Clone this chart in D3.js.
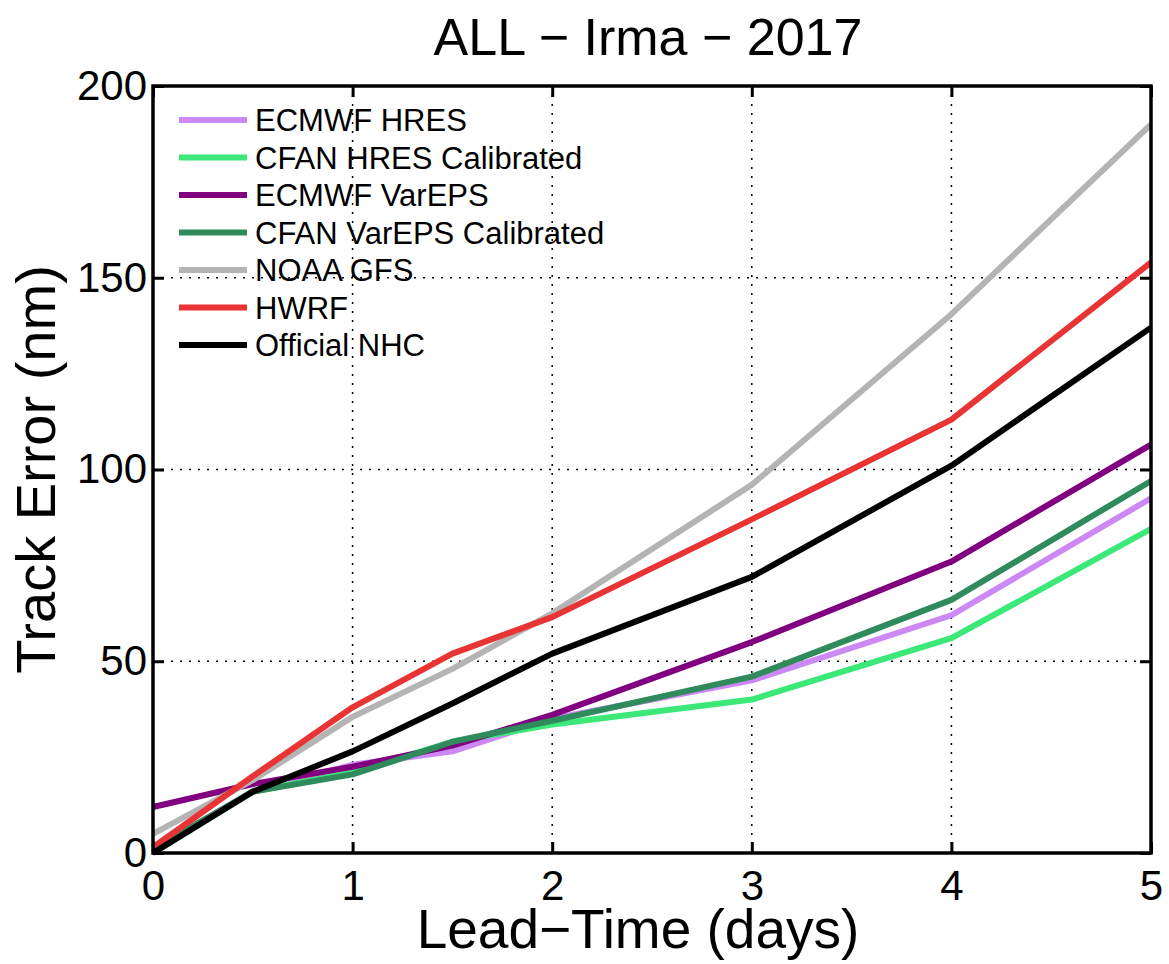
<!DOCTYPE html>
<html>
<head>
<meta charset="utf-8">
<script src="https://cdn.jsdelivr.net/npm/d3@7"></script>
<style>
  body { margin: 0; background: #fff; overflow: hidden; }
  svg text { font-family: "Liberation Sans", Arial, sans-serif; }
</style>
</head>
<body>
<svg id="chart" width="1169" height="964"></svg>
<script>
// lead times (days)
var leadDays = [0, 0.5, 1, 1.5, 2, 3, 4, 5]

var seriesNames = ['ECMWF HRES', 'CFAN HRES Calibrated', 'ECMWF VarEPS', 'CFAN VarEPS Calibrated', 'NOAA GFS', 'HWRF', 'Official NHC']
var seriesColors = ['#cc88f5', '#3be878', '#800080', '#2f8a5c', '#b4b4b4', '#e83434', '#000000']

var ecmwfHres = [1, 16, 23, 26.5, 35, 45, 62, 92.5]
var cfanHres = [0, 16, 21, 29, 33.5, 40, 56, 84.5]
var ecmwfEps = [12, 18, 22.5, 28, 36, 55, 76, 106.5]
var cfanEps = [1, 16, 20.5, 29, 34.5, 46, 66, 97]
var noaaGfs = [5, 19, 35.5, 48, 62.5, 96, 140.5, 190]
var hwrf = [1.5, 20, 38, 52, 61.5, 87, 113, 154]
var nhc = [0, 16, 26.5, 39, 52, 72, 101, 137]

var allSeries = [ecmwfHres, cfanHres, ecmwfEps, cfanEps, noaaGfs, hwrf, nhc]

var xTicks = [0, 1, 2, 3, 4, 5]
var yTicks = [0, 50, 100, 150, 200]

var svg = d3.select('#chart')
var margin = { left: 153, top: 86, right: 18, bottom: 111 }
var width = +svg.attr('width')
var height = +svg.attr('height')
var plotW = width - margin.left - margin.right
var plotH = height - margin.top - margin.bottom

var xscale = d3.scaleLinear().domain([0, 5]).range([0, plotW])
var yscale = d3.scaleLinear().domain([0, 200]).range([plotH, 0])

var g = svg.append('g').attr('transform', 'translate(' + margin.left + ',' + margin.top + ')')

// dotted grid
g.append('g').selectAll('line').data(xTicks.slice(1, -1)).enter()
  .append('line')
  .attr('x1', d => xscale(d)).attr('x2', d => xscale(d))
  .attr('y1', 0).attr('y2', plotH)
  .attr('stroke', '#000').attr('stroke-width', 1.5).attr('stroke-dasharray', '2,7')
g.append('g').selectAll('line').data(yTicks.slice(1, -1)).enter()
  .append('line')
  .attr('y1', d => yscale(d)).attr('y2', d => yscale(d))
  .attr('x1', 0).attr('x2', plotW)
  .attr('stroke', '#000').attr('stroke-width', 1.5).attr('stroke-dasharray', '2,7')

// lines
var line = d3.line()
  .x((d, i) => xscale(leadDays[i]))
  .y(d => yscale(d))

g.append('g').selectAll('path').data(allSeries).enter()
  .append('path')
  .attr('d', d => line(d))
  .attr('fill', 'none')
  .attr('stroke', (d, i) => seriesColors[i])
  .attr('stroke-width', 6)
  .attr('stroke-linejoin', 'round')

// axes (MATLAB style box, ticks inside)
function styleAxis(sel) {
  sel.select('.domain').remove()
  sel.selectAll('.tick line').attr('stroke', '#000').attr('stroke-width', 3)
  sel.selectAll('.tick text').attr('fill', '#000').style('font-size', '42px')
}
g.append('g').attr('transform', 'translate(0,' + plotH + ')')
  .call(d3.axisBottom(xscale).tickValues(xTicks).tickSize(-11).tickPadding(17).tickFormat(d3.format('d')))
  .call(styleAxis)
g.append('g')
  .call(d3.axisLeft(yscale).tickValues(yTicks).tickSize(-11).tickPadding(6).tickFormat(d3.format('d')))
  .call(styleAxis)
g.append('g')
  .call(d3.axisTop(xscale).tickValues(xTicks).tickSize(-11).tickFormat(''))
  .call(styleAxis)
g.append('g').attr('transform', 'translate(' + plotW + ',0)')
  .call(d3.axisRight(yscale).tickValues(yTicks).tickSize(-11).tickFormat(''))
  .call(styleAxis)
g.append('rect')
  .attr('width', plotW).attr('height', plotH)
  .attr('fill', 'none').attr('stroke', '#000').attr('stroke-width', 3.5)

// legend
var legend = g.append('g').attr('transform', 'translate(26,34)')
var rows = legend.selectAll('g').data(seriesNames).enter()
  .append('g')
  .attr('transform', (d, i) => 'translate(0,' + i * 37.5 + ')')
rows.append('line')
  .attr('x1', 0).attr('x2', 68)
  .attr('stroke', (d, i) => seriesColors[i])
  .attr('stroke-width', 6)
rows.append('text')
  .attr('x', 76).attr('dy', '0.36em')
  .style('font-size', '31px')
  .text(d => d)

// titles
svg.append('text')
  .attr('x', margin.left + plotW / 2 - 4).attr('y', 55)
  .attr('text-anchor', 'middle').style('font-size', '52px')
  .text('ALL \u2212 Irma \u2212 2017')
svg.append('text')
  .attr('x', margin.left + plotW / 2 - 14).attr('y', 948)
  .attr('text-anchor', 'middle').style('font-size', '55px')
  .text('Lead\u2212Time (days)')
svg.append('text')
  .attr('transform', 'translate(55,' + (margin.top + plotH / 2) + ') rotate(-90)')
  .attr('text-anchor', 'middle').style('font-size', '56px')
  .text('Track Error (nm)')
</script>
</body>
</html>
